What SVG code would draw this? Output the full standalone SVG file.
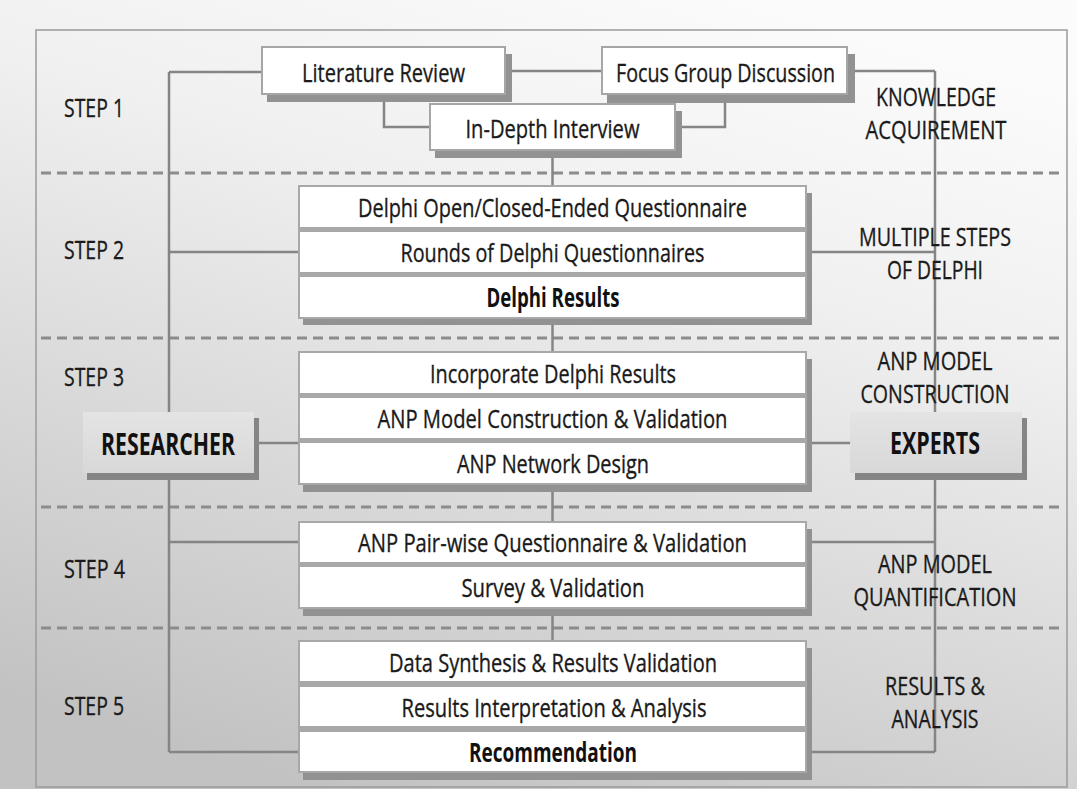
<svg xmlns="http://www.w3.org/2000/svg" width="1077" height="789" viewBox="0 0 1077 789">
<defs>
<linearGradient id="bg" x1="0.7" y1="0" x2="0.3" y2="1">
<stop offset="0" stop-color="#fbfbfb"/>
<stop offset="0.3" stop-color="#f0f0f0"/>
<stop offset="1" stop-color="#c2c2c2"/>
</linearGradient>
<linearGradient id="actor" x1="0" y1="0" x2="0" y2="1">
<stop offset="0" stop-color="#e4e4e4"/>
<stop offset="1" stop-color="#d8d8d8"/>
</linearGradient>
<style>
.frame{fill:none;stroke:#9a9a9a;stroke-width:1.5}
.dash{stroke:#8c8c8c;stroke-width:3;stroke-dasharray:10 6;fill:none}
.con{stroke:#858585;stroke-width:2.5;fill:none}
.sh{fill:#929292}
.back{fill:#a8a8a8}
.box{fill:#ffffff}
.sbox{fill:#ffffff;stroke:#a6a6a6;stroke-width:2}
.ash{fill:#858585}
.abox{fill:url(#actor)}
text{font-family:"Open Sans","Liberation Sans",sans-serif;font-size:26px;fill:#1a1a1a;stroke:#1a1a1a;stroke-width:0.35;text-anchor:middle}
.b{font-weight:bold;fill:#111;stroke:none}
.big{font-weight:bold;font-size:30px;fill:#111;stroke:none}
.lft{text-anchor:start}
</style>
</defs>
<rect x="0" y="0" width="1077" height="789" fill="url(#bg)"/>
<rect class="frame" x="36" y="30" width="1031" height="757"/>
<g id="separators">
<path class="dash" d="M41 173H1062M41 338H1062M41 507H1062M41 628H1062"/>
</g>
<g id="connectors">
<path class="con" d="M169 72V752"/>
<path class="con" d="M169 72H262"/>
<path class="con" d="M169 252H299"/>
<path class="con" d="M254 443H299"/>
<path class="con" d="M169 542H299"/>
<path class="con" d="M169 752H299"/>
<path class="con" d="M505 71H602"/>
<path class="con" d="M847 71H935"/>
<path class="con" d="M935 71V752"/>
<path class="con" d="M805 252H935"/>
<path class="con" d="M805 443H850"/>
<path class="con" d="M805 542H935"/>
<path class="con" d="M805 752H935"/>
<path class="con" d="M384 94V127H430"/>
<path class="con" d="M725 94V127H675"/>
<path class="con" d="M552.5 150V187"/>
<path class="con" d="M552.5 317V353"/>
<path class="con" d="M552.5 483V523"/>
<path class="con" d="M552.5 607V642"/>
</g>
<g id="step-labels">
<text class="lft" x="64" y="117" textLength="60" lengthAdjust="spacingAndGlyphs">STEP 1</text>
<text class="lft" x="64" y="259" textLength="60" lengthAdjust="spacingAndGlyphs">STEP 2</text>
<text class="lft" x="64" y="386" textLength="60" lengthAdjust="spacingAndGlyphs">STEP 3</text>
<text class="lft" x="64" y="578" textLength="61" lengthAdjust="spacingAndGlyphs">STEP 4</text>
<text class="lft" x="64" y="715" textLength="60" lengthAdjust="spacingAndGlyphs">STEP 5</text>
</g>
<g id="phase-labels">
<text x="936" y="106" textLength="120" lengthAdjust="spacingAndGlyphs">KNOWLEDGE</text>
<text x="936" y="139" textLength="141" lengthAdjust="spacingAndGlyphs">ACQUIREMENT</text>
<text x="935" y="246" textLength="152" lengthAdjust="spacingAndGlyphs">MULTIPLE STEPS</text>
<text x="935" y="279" textLength="96" lengthAdjust="spacingAndGlyphs">OF DELPHI</text>
<text x="935" y="370" textLength="115" lengthAdjust="spacingAndGlyphs">ANP MODEL</text>
<text x="935" y="403" textLength="149" lengthAdjust="spacingAndGlyphs">CONSTRUCTION</text>
<text x="935" y="573" textLength="114" lengthAdjust="spacingAndGlyphs">ANP MODEL</text>
<text x="935" y="606" textLength="163" lengthAdjust="spacingAndGlyphs">QUANTIFICATION</text>
<text x="935" y="695" textLength="100" lengthAdjust="spacingAndGlyphs">RESULTS &amp;</text>
<text x="935" y="728" textLength="87" lengthAdjust="spacingAndGlyphs">ANALYSIS</text>
</g>
<g id="literature-review">
<rect class="sh" x="267" y="54" width="245" height="48"/>
<rect class="sbox" x="262" y="47" width="243" height="47"/>
<text x="383.5" y="82" textLength="163" lengthAdjust="spacingAndGlyphs">Literature Review</text>
</g>
<g id="focus-group">
<rect class="sh" x="607" y="54" width="248" height="49"/>
<rect class="sbox" x="602" y="47" width="245" height="47"/>
<text x="725.5" y="82" textLength="219" lengthAdjust="spacingAndGlyphs">Focus Group Discussion</text>
</g>
<g id="in-depth-interview">
<rect class="sh" x="435" y="111" width="247" height="47"/>
<rect class="sbox" x="430" y="104" width="245" height="46"/>
<text x="552.5" y="138" textLength="174" lengthAdjust="spacingAndGlyphs">In-Depth Interview</text>
</g>
<g id="step2">
<rect class="sh" x="303" y="193" width="509" height="132"/>
<rect class="back" x="298" y="185" width="509" height="134"/>
<rect class="box" x="300" y="187" width="505" height="40"/>
<rect class="box" x="300" y="232" width="505" height="40"/>
<rect class="box" x="300" y="277" width="505" height="40"/>
<text x="552.5" y="217" textLength="389" lengthAdjust="spacingAndGlyphs">Delphi Open/Closed-Ended Questionnaire</text>
<text x="552.5" y="262" textLength="304" lengthAdjust="spacingAndGlyphs">Rounds of Delphi Questionnaires</text>
<text class="b" x="553" y="307" textLength="133" lengthAdjust="spacingAndGlyphs">Delphi Results</text>
</g>
<g id="step3">
<rect class="sh" x="303" y="359" width="509" height="133"/>
<rect class="back" x="298" y="351" width="509" height="134"/>
<rect class="box" x="300" y="353" width="505" height="40"/>
<rect class="box" x="300" y="398" width="505" height="40"/>
<rect class="box" x="300" y="443" width="505" height="40"/>
<text x="553" y="383" textLength="246" lengthAdjust="spacingAndGlyphs">Incorporate Delphi Results</text>
<text x="552.5" y="428" textLength="350" lengthAdjust="spacingAndGlyphs">ANP Model Construction &amp; Validation</text>
<text x="553" y="473" textLength="192" lengthAdjust="spacingAndGlyphs">ANP Network Design</text>
</g>
<g id="step4">
<rect class="sh" x="303" y="529" width="509" height="87"/>
<rect class="back" x="298" y="521" width="509" height="88"/>
<rect class="box" x="300" y="523" width="505" height="39"/>
<rect class="box" x="300" y="567" width="505" height="40"/>
<text x="552.5" y="552" textLength="389" lengthAdjust="spacingAndGlyphs">ANP Pair-wise Questionnaire &amp; Validation</text>
<text x="553" y="597" textLength="183" lengthAdjust="spacingAndGlyphs">Survey &amp; Validation</text>
</g>
<g id="step5">
<rect class="sh" x="303" y="648" width="509" height="132"/>
<rect class="back" x="298" y="640" width="509" height="133"/>
<rect class="box" x="300" y="642" width="505" height="39"/>
<rect class="box" x="300" y="687" width="505" height="39"/>
<rect class="box" x="300" y="732" width="505" height="39"/>
<text x="553" y="672" textLength="328" lengthAdjust="spacingAndGlyphs">Data Synthesis &amp; Results Validation</text>
<text x="554" y="717" textLength="305" lengthAdjust="spacingAndGlyphs">Results Interpretation &amp; Analysis</text>
<text class="b" x="553" y="762" textLength="168" lengthAdjust="spacingAndGlyphs">Recommendation</text>
</g>
<g id="researcher">
<rect class="ash" x="87" y="418" width="172" height="62"/>
<rect class="abox" x="83" y="412" width="171" height="61"/>
<text class="big" x="168" y="455" textLength="134" lengthAdjust="spacingAndGlyphs">RESEARCHER</text>
</g>
<g id="experts">
<rect class="ash" x="855" y="418" width="172" height="62"/>
<rect class="abox" x="850" y="412" width="172" height="61"/>
<text class="big" x="935" y="454" textLength="90" lengthAdjust="spacingAndGlyphs">EXPERTS</text>
</g>
</svg>
